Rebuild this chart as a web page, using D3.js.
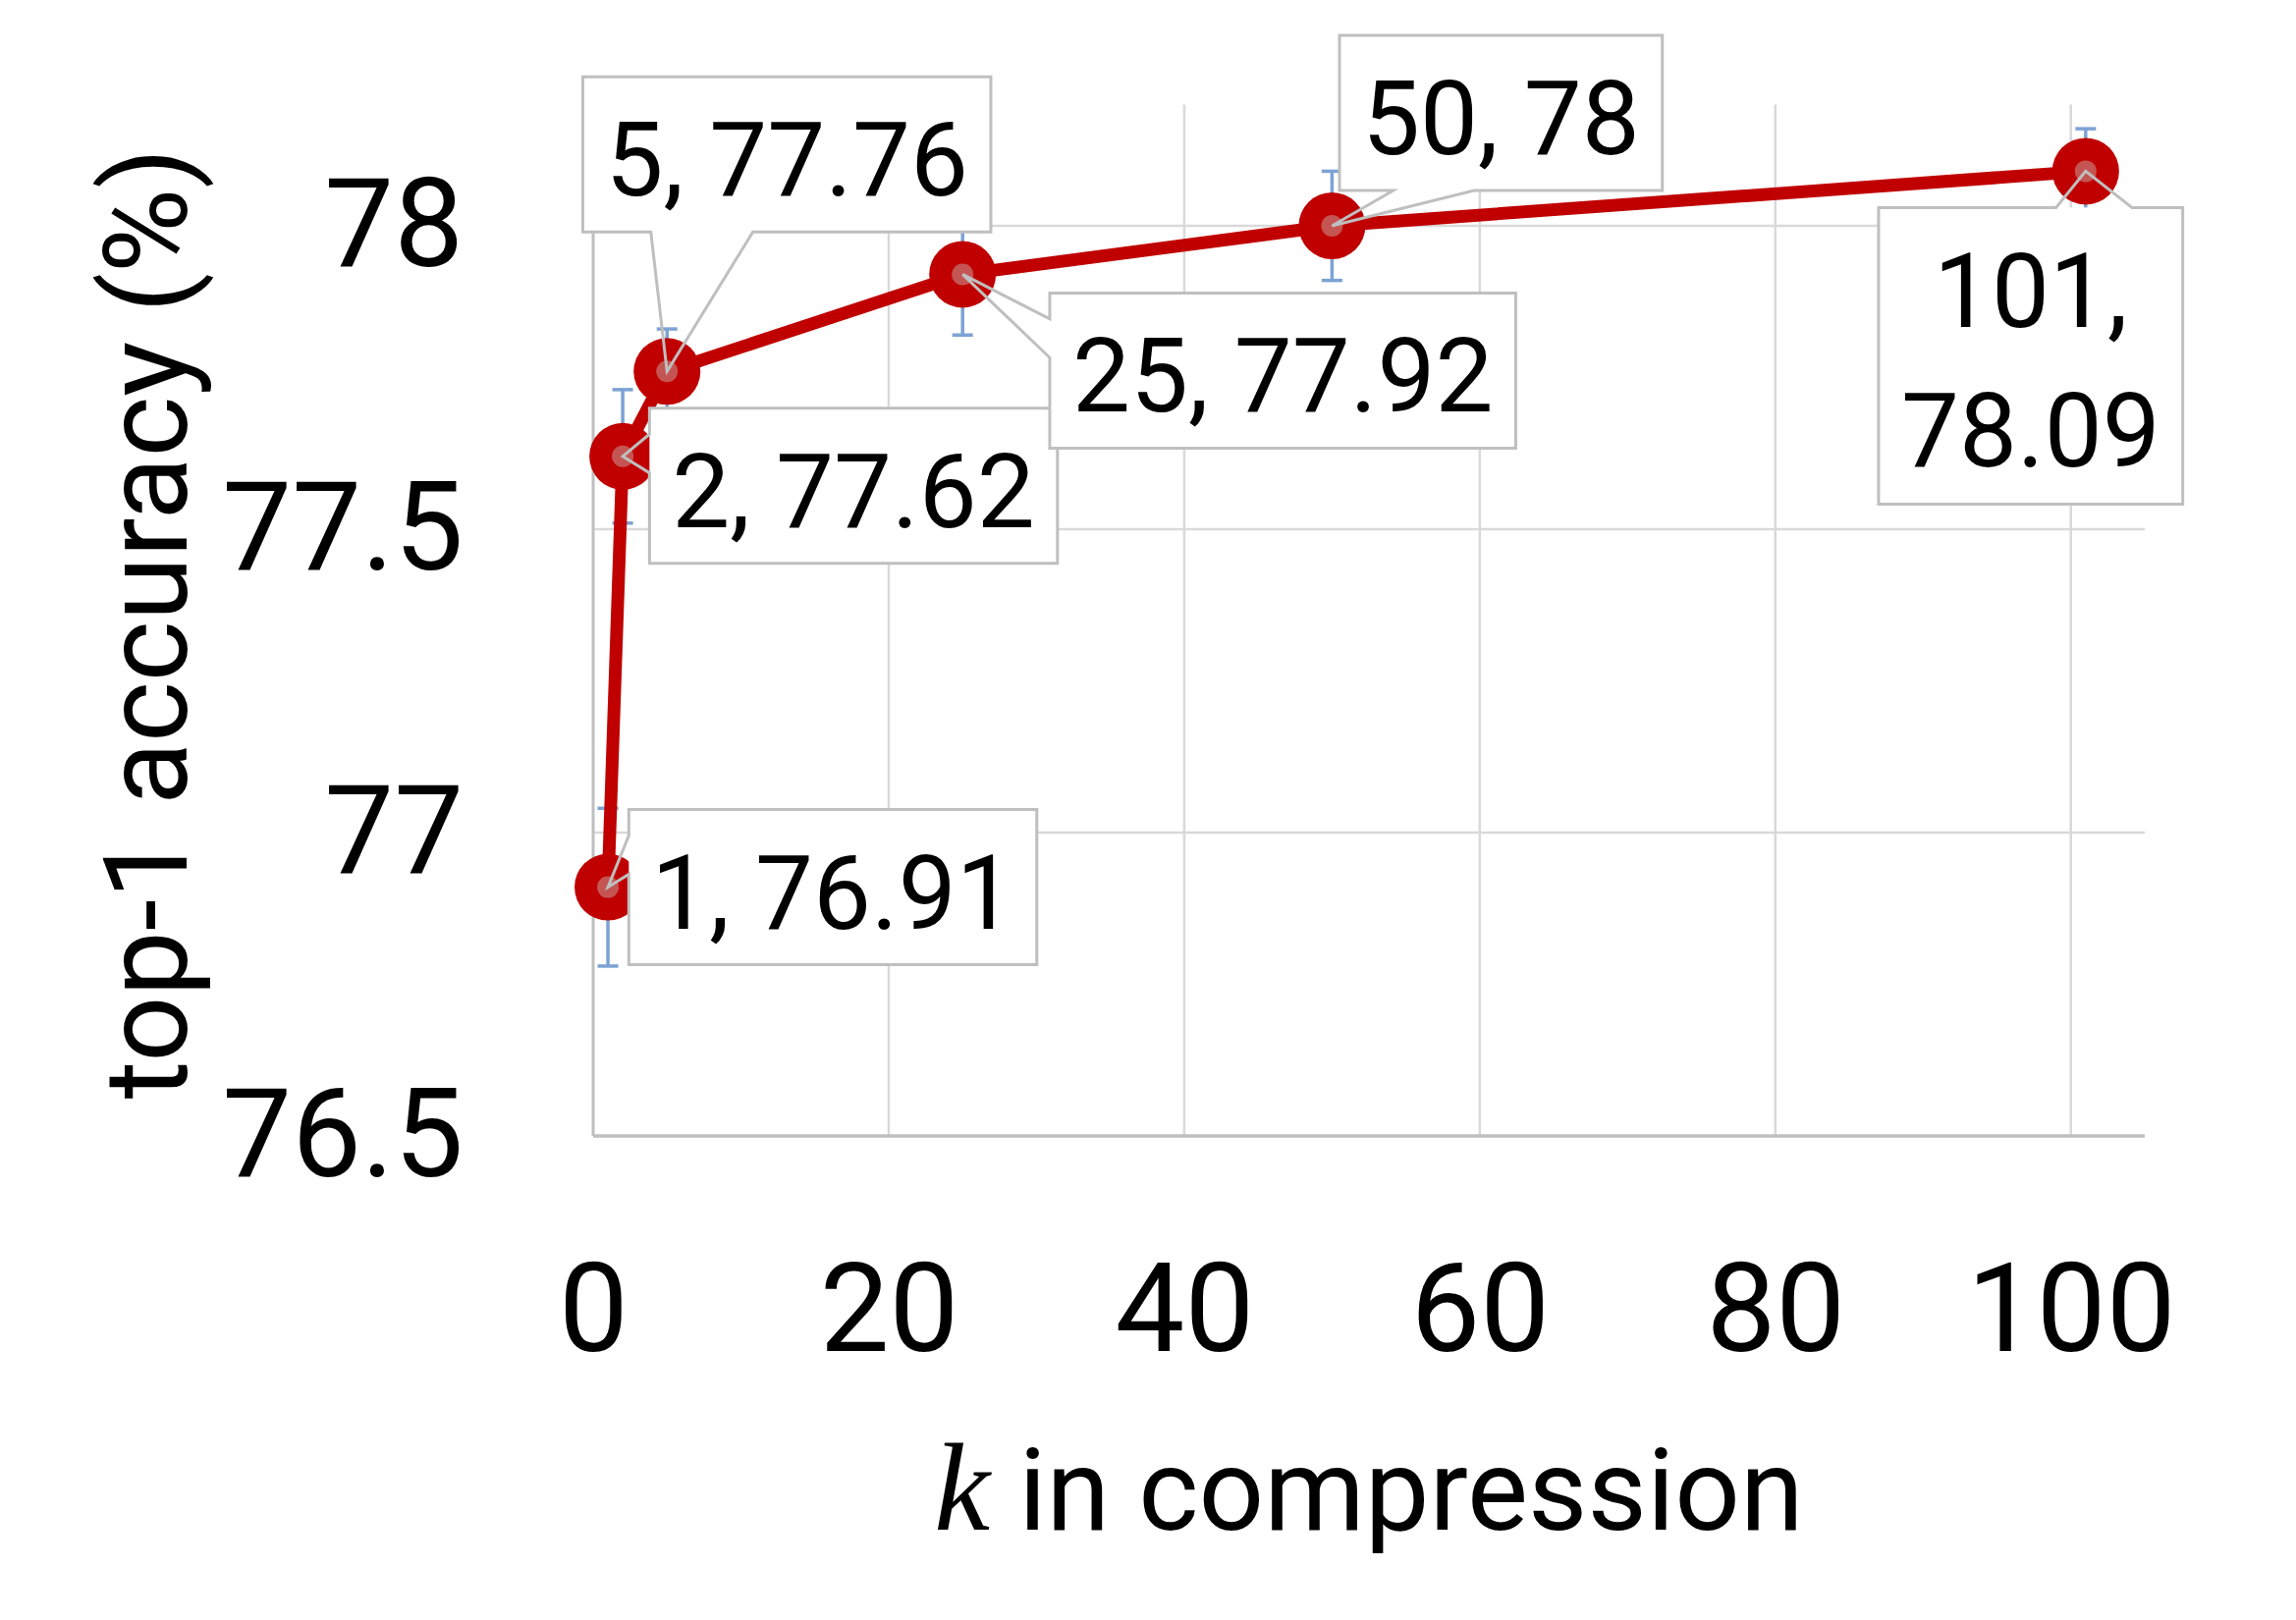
<!DOCTYPE html>
<html><head><meta charset="utf-8">
<script src="https://cdn.jsdelivr.net/npm/d3@7"></script>
<style>body{margin:0;background:#fff} svg{display:block}</style>
</head><body>
<svg id="c" width="2338" height="1650"></svg>
<script>
// ---- data ----
const kValues   = [1, 2, 5, 25, 50, 101];
const accuracy  = [76.91, 77.62, 77.76, 77.92, 78.00, 78.09];
const errors    = [0.13, 0.11, 0.07, 0.10, 0.09, 0.07];
const xTickValues = [0, 20, 40, 60, 80, 100];
const yTickValues = [76.5, 77, 77.5, 78];
const xTitleVar = "k";
const xTitleText = " in compression";
const yTitleText = "top-1 accuracy (%)";

// ---- layout (label callout offsets, px) ----
const labelLayout = [
  {dx: 229, dy: 0},
  {dx: 235, dy: 30},
  {dx: 122, dy: -221},
  {dx: 326, dy: 98},
  {dx: 172, dy: -115},
  {dx: -56, dy: 188, wrap: true}
];

const svg = d3.select("#c");
const L = 604, R = 2184, T = 106.4, B = 1157;
const x = d3.scaleLinear().domain([0, 105]).range([L, R]);
const y = d3.scaleLinear().domain([76.5, 78.2]).range([B, T]);
const FONT = "Roboto, 'Noto Sans', sans-serif";

const pts = kValues.map((k, i) => ({k, v: accuracy[i], e: errors[i], i}));

// gridlines
const grid = svg.append("g");
grid.selectAll(".hg").data(yTickValues.filter(d => d !== 76.5)).join("line")
  .attr("x1", L).attr("x2", R).attr("y1", d => y(d)).attr("y2", d => y(d))
  .attr("stroke", "#D9D9D9").attr("stroke-width", 2.5);
grid.selectAll(".vg").data(xTickValues.filter(d => d !== 0)).join("line")
  .attr("x1", d => x(d)).attr("x2", d => x(d)).attr("y1", T).attr("y2", B)
  .attr("stroke", "#D9D9D9").attr("stroke-width", 2.5);
// axis lines
svg.append("line").attr("x1", L).attr("x2", L).attr("y1", T).attr("y2", B)
  .attr("stroke", "#BFBFBF").attr("stroke-width", 3);
svg.append("line").attr("x1", L).attr("x2", R).attr("y1", B).attr("y2", B)
  .attr("stroke", "#BFBFBF").attr("stroke-width", 3.5);

// axes (labels)
const ya = svg.append("g").attr("transform", `translate(${L},0)`)
  .call(d3.axisLeft(y).tickValues(yTickValues).tickSize(0).tickPadding(132).tickFormat(d => String(d)));
const xa = svg.append("g").attr("transform", `translate(0,${B})`)
  .call(d3.axisBottom(x).tickValues(xTickValues).tickSize(0).tickPadding(130).tickFormat(d => String(d)));
[ya, xa].forEach(g => {
  g.select(".domain").remove();
  g.selectAll("text").attr("font-family", FONT).attr("font-size", 126).attr("fill", "#000");
});

// axis titles
const xt = svg.append("text").attr("x", 1394).attr("y", 1558).attr("text-anchor", "middle")
  .attr("font-family", FONT).attr("font-size", 117).attr("fill", "#000");
xt.append("tspan").attr("font-family", "'Liberation Serif', 'DejaVu Serif', serif")
  .attr("font-style", "italic").attr("font-size", 128).text(xTitleVar);
xt.append("tspan").text(xTitleText);

svg.append("text").attr("transform", "translate(190,635) rotate(-90)")
  .attr("text-anchor", "middle").attr("font-family", FONT).attr("font-size", 118)
  .attr("fill", "#000").text(yTitleText);

// error bars
const eb = svg.append("g").attr("stroke", "#7DA2D4").attr("stroke-width", 3.5);
pts.forEach(p => {
  const cx = x(p.k), y1 = y(p.v - p.e), y2 = y(p.v + p.e);
  eb.append("line").attr("x1", cx).attr("x2", cx).attr("y1", y1).attr("y2", y2);
  eb.append("line").attr("x1", cx - 10.5).attr("x2", cx + 10.5).attr("y1", y1).attr("y2", y1);
  eb.append("line").attr("x1", cx - 10.5).attr("x2", cx + 10.5).attr("y1", y2).attr("y2", y2);
});

// line
svg.append("path").datum(pts)
  .attr("d", d3.line().x(d => x(d.k)).y(d => y(d.v)))
  .attr("fill", "none").attr("stroke", "#C00000").attr("stroke-width", 13)
  .attr("stroke-linejoin", "round");

// markers
svg.selectAll(".mo").data(pts).join("circle")
  .attr("cx", d => x(d.k)).attr("cy", d => y(d.v)).attr("r", 34).attr("fill", "#C00000");
svg.selectAll(".mi").data(pts).join("circle")
  .attr("cx", d => x(d.k)).attr("cy", d => y(d.v)).attr("r", 11).attr("fill", "#C45552");

// callouts
function calloutPath(bx, by, w, h, tx, ty) {
  const cx = bx + w / 2, cy = by + h / 2;
  const ndx = (tx - cx) / w, ndy = (ty - cy) / h;
  let a, b;
  if (Math.abs(ndx) >= Math.abs(ndy)) {
    [a, b] = ndy > 0 ? [7/12, 10/12] : [2/12, 5/12];
    if (ndx < 0) {
      return `M${bx},${by}L${bx+w},${by}L${bx+w},${by+h}L${bx},${by+h}L${bx},${by+h*b}L${tx},${ty}L${bx},${by+h*a}Z`;
    }
    return `M${bx},${by}L${bx+w},${by}L${bx+w},${by+h*a}L${tx},${ty}L${bx+w},${by+h*b}L${bx+w},${by+h}L${bx},${by+h}Z`;
  }
  [a, b] = ndx > 0 ? [7/12, 10/12] : [2/12, 5/12];
  if (ndy < 0) {
    return `M${bx},${by}L${bx+w*a},${by}L${tx},${ty}L${bx+w*b},${by}L${bx+w},${by}L${bx+w},${by+h}L${bx},${by+h}Z`;
  }
  return `M${bx},${by}L${bx+w},${by}L${bx+w},${by+h}L${bx+w*b},${by+h}L${tx},${ty}L${bx+w*a},${by+h}L${bx},${by+h}Z`;
}

const cg = svg.append("g");
pts.forEach((p, i) => {
  const lay = labelLayout[i];
  const px = x(p.k), py = y(p.v);
  const cx = px + lay.dx, cy = py + lay.dy;
  const lines = lay.wrap ? [`${p.k},`, `${p.v}`] : [`${p.k}, ${p.v}`];
  const g = cg.append("g");
  const rect = g.append("rect");
  const outline = g.append("path");
  const txt = g.append("text").attr("text-anchor", "middle").attr("font-family", FONT)
    .attr("font-size", 105).attr("fill", "#000");
  const base = lay.wrap ? [cy - 29, cy + 113] : [cy + 42];
  lines.forEach((s, j) => txt.append("tspan").attr("x", cx).attr("y", base[j]).text(s));
  let tw = 0;
  txt.selectAll("tspan").each(function () { tw = Math.max(tw, this.getComputedTextLength()); });
  const w = tw + 46, h = lay.wrap ? 302 : 158;
  const bx = cx - w / 2, by = cy - h / 2;
  rect.attr("x", bx).attr("y", by).attr("width", w).attr("height", h).attr("fill", "#fff");
  outline.attr("d", calloutPath(bx, by, w, h, px, py))
    .attr("fill", "none").attr("stroke", "#BFBFBF").attr("stroke-width", 3)
    .attr("stroke-linejoin", "miter");
});
</script>
</body></html>
